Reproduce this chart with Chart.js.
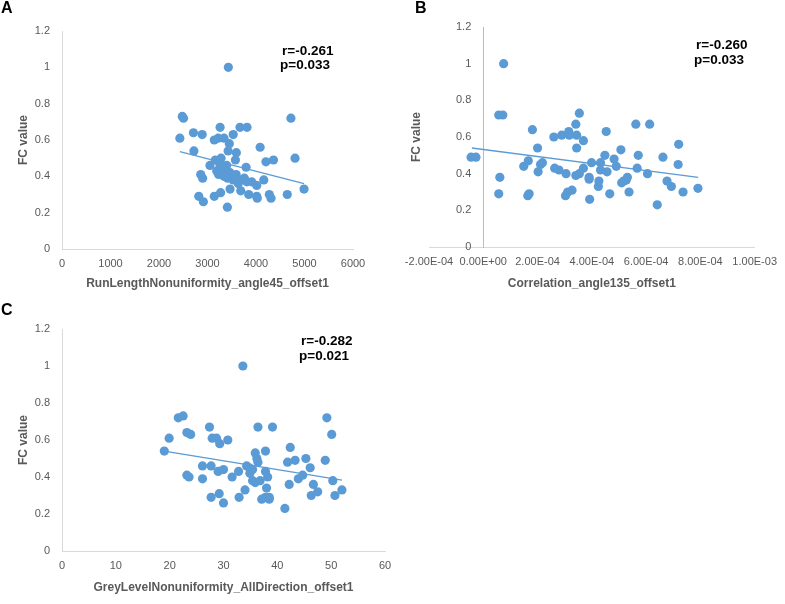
<!DOCTYPE html>
<html>
<head>
<meta charset="utf-8">
<script src="https://cdn.jsdelivr.net/npm/chart.js@4.4.1/dist/chart.umd.min.js"></script>
<style>
  html, body { margin: 0; padding: 0; background: #ffffff; }
  #wrap { position: relative; width: 785px; height: 604px; overflow: hidden; background: #ffffff; font-family: 'Liberation Sans', Arial, sans-serif; }
  canvas { position: absolute; }
  .lbl { position: absolute; font-weight: bold; color: #000; line-height: 1; white-space: nowrap; }
  .panel { font-size: 16px; }
  .stat { font-size: 13.5px; }
</style>
</head>
<body>
<div id="wrap">
  <canvas id="cA" width="390" height="300" style="left:0;top:0;"></canvas>
  <canvas id="cB" width="395" height="300" style="left:390px;top:0;"></canvas>
  <canvas id="cC" width="400" height="304" style="left:0;top:300px;"></canvas>
  <div class="lbl panel" style="left:1px;top:0px;">A</div>
  <div class="lbl panel" style="left:415px;top:0px;">B</div>
  <div class="lbl panel" style="left:1px;top:302px;">C</div>
  <div class="lbl stat" style="left:282px;top:44px;">r=-0.261</div>
  <div class="lbl stat" style="left:280px;top:58px;">p=0.033</div>
  <div class="lbl stat" style="left:696px;top:38px;">r=-0.260</div>
  <div class="lbl stat" style="left:694px;top:53px;">p=0.033</div>
  <div class="lbl stat" style="left:301px;top:334px;">r=-0.282</div>
  <div class="lbl stat" style="left:299px;top:349px;">p=0.021</div>
</div>
<script>
// ---------- DATA ----------
// Panel A: RunLengthNonuniformity_angle45_offset1 vs FC value
const runLengthX = [3430,2480,2505,4720,3260,3670,3815,2710,2890,2430,3140,3220,3340,3530,3450,4085,2720,3425,3595,3575,
  4805,4205,4360,3050,3160,3280,3795,3190,3295,3395,3230,3340,3465,3415,3530,3590,2860,2900,3760,3810,
  3910,4015,4160,3670,3635,3465,3685,3270,3140,3850,4015,4025,4275,4310,4645,4990,2820,2915,3410,3300,3360,3250,3500];
const runLengthFC = [1.00,0.73,0.72,0.72,0.67,0.67,0.67,0.64,0.63,0.61,0.60,0.61,0.61,0.63,0.58,0.56,0.54,0.54,0.53,0.49,
  0.50,0.48,0.49,0.46,0.49,0.50,0.45,0.43,0.45,0.46,0.41,0.40,0.42,0.39,0.38,0.41,0.41,0.39,0.39,0.37,
  0.37,0.35,0.38,0.38,0.36,0.33,0.32,0.31,0.29,0.30,0.29,0.28,0.30,0.28,0.30,0.33,0.29,0.26,0.23,0.44,0.43,0.47,0.40];
const runLengthTrendX = [2430, 4990];
const runLengthTrendFC = [0.536, 0.360];

// Panel B: Correlation_angle135_offset1 vs FC value
const correlationX = [7.5e-5,5.7e-5,7.2e-5,-4.5e-5,-2.7e-5,6.1e-5,5.7e-5,1.81e-4,2.0e-4,1.49e-4,1.66e-4,2.02e-4,2.11e-4,2.18e-4,1.64e-4,1.69e-4,
  2.6e-4,2.89e-4,3.15e-4,3.17e-4,3.41e-4,3.54e-4,3.44e-4,3.69e-4,3.44e-4,2.63e-4,2.79e-4,3.05e-4,3.41e-4,3.54e-4,3.69e-4,
  3.03e-4,3.11e-4,3.27e-4,3.9e-4,3.9e-4,3.92e-4,3.99e-4,4.26e-4,4.24e-4,4.32e-4,4.32e-4,4.48e-4,4.53e-4,4.56e-4,4.66e-4,
  4.82e-4,4.9e-4,5.07e-4,5.1e-4,5.17e-4,5.31e-4,5.27e-4,5.37e-4,5.62e-4,5.71e-4,5.67e-4,6.05e-4,6.13e-4,6.41e-4,6.62e-4,
  6.77e-4,6.93e-4,7.2e-4,7.18e-4,7.36e-4,7.91e-4];
const correlationFC = [1.00,0.72,0.72,0.49,0.49,0.38,0.29,0.64,0.54,0.44,0.47,0.41,0.45,0.46,0.28,0.29,
  0.60,0.61,0.63,0.61,0.67,0.73,0.61,0.58,0.54,0.43,0.42,0.40,0.39,0.40,0.43,
  0.28,0.30,0.31,0.38,0.37,0.26,0.46,0.36,0.33,0.46,0.42,0.50,0.63,0.41,0.29,
  0.48,0.44,0.53,0.35,0.36,0.38,0.365,0.30,0.67,0.50,0.43,0.40,0.67,0.23,0.49,
  0.36,0.33,0.56,0.45,0.30,0.32];
const correlationTrendX = [-4.2e-5, 7.92e-4];
const correlationTrendFC = [0.54, 0.38];

// Panel C: GreyLevelNonuniformity_AllDirection_offset1 vs FC value
const greyLevelX = [33.6,21.6,22.5,49.2,27.4,36.4,39.1,23.2,23.9,50.1,19.9,27.9,28.7,30.8,29.3,19.0,42.4,37.8,35.9,36.2,
  36.4,45.3,41.9,43.3,48.9,46.1,26.1,27.7,34.3,34.8,35.4,29.0,30.0,32.8,31.6,26.1,23.2,23.6,34.9,35.4,
  35.9,36.8,37.8,38.2,38.0,44.7,43.9,42.2,46.7,50.3,52.0,47.5,46.3,50.7,34.0,32.9,29.2,27.7,30.0,37.1,
  37.8,38.5,38.5,41.4];
const greyLevelFC = [1.00,0.72,0.73,0.72,0.67,0.67,0.67,0.64,0.63,0.63,0.61,0.61,0.61,0.60,0.58,0.54,0.56,0.54,0.53,0.50,
  0.48,0.50,0.48,0.49,0.49,0.45,0.46,0.46,0.46,0.45,0.44,0.43,0.44,0.43,0.40,0.39,0.41,0.40,0.42,0.38,
  0.37,0.38,0.43,0.40,0.34,0.41,0.39,0.36,0.36,0.38,0.33,0.32,0.30,0.30,0.33,0.29,0.31,0.29,0.26,0.28,
  0.29,0.28,0.29,0.23];
const greyLevelTrendX = [19.0, 52.0];
const greyLevelTrendFC = [0.54, 0.383];

// Tick labels
const fcTicks = [0, 0.2, 0.4, 0.6, 0.8, 1.0, 1.2];
const fcTickLabels = ['0', '0.2', '0.4', '0.6', '0.8', '1', '1.2'];
const runLengthTicks = [0, 1000, 2000, 3000, 4000, 5000, 6000];
const runLengthTickLabels = ['0', '1000', '2000', '3000', '4000', '5000', '6000'];
const correlationTicks = [-2e-4, 0, 2e-4, 4e-4, 6e-4, 8e-4, 1e-3];
const correlationTickLabels = ['-2.00E-04', '0.00E+00', '2.00E-04', '4.00E-04', '6.00E-04', '8.00E-04', '1.00E-03'];
const greyLevelTicks = [0, 10, 20, 30, 40, 50, 60];
const greyLevelTickLabels = ['0', '10', '20', '30', '40', '50', '60'];

// ---------- STYLE ----------
const FONT = "'Liberation Sans', Arial, sans-serif";
const BLUE = '#5b9bd5';
const TICK = '#595959';
const TITLE = '#595959';
const AXIS = '#d9d9d9';

Chart.defaults.font.family = FONT;

function pts(xs, ys) { return xs.map((x, i) => ({ x: x, y: ys[i] })); }

function makeChart(id, o) {
  const yScale = {
    type: 'linear',
    position: o.yPosition || 'left',
    min: 0, max: 1.2,
    afterBuildTicks: s => { s.ticks = fcTicks.map(v => ({ value: v })); },
    ticks: { display: !o.crossedY, autoSkip: false, padding: 12, color: TICK, font: { size: 11 },
      callback: (v, i) => fcTickLabels[i] },
    grid: { display: false, drawTicks: false },
    border: { display: true, color: o.yAxisColor || AXIS, width: 1 },
    title: { display: !o.crossedY, text: 'FC value', color: TITLE,
      font: { size: 12, weight: 'bold' }, padding: { top: 16, bottom: 0 } }
  };
  if (!o.yPosition) yScale.afterFit = s => { s.width = o.yWidth; };
  return new Chart(document.getElementById(id), {
    type: 'scatter',
    data: { datasets: [
      { data: pts(o.trendX, o.trendY), showLine: true, borderColor: BLUE, borderWidth: 1.3,
        pointRadius: 0, pointHoverRadius: 0, fill: false },
      { data: pts(o.x, o.y), backgroundColor: BLUE, borderColor: BLUE, borderWidth: 0,
        pointRadius: 4.6, pointHoverRadius: 4.6 }
    ]},
    options: {
      responsive: false, animation: false, devicePixelRatio: 1,
      layout: { padding: o.padding },
      plugins: { legend: { display: false }, tooltip: { enabled: false } },
      scales: {
        x: {
          type: 'linear', position: 'bottom', min: o.xMin, max: o.xMax,
          afterBuildTicks: s => { s.ticks = o.xTicks.map(v => ({ value: v })); },
          ticks: { autoSkip: false, maxRotation: 0, minRotation: 0, padding: 8, color: TICK,
            font: { size: 11 }, callback: (v, i) => o.xLabels[i] },
          grid: { display: false, drawTicks: false },
          border: { display: true, color: AXIS, width: 1 },
          title: { display: true, text: o.xTitle, color: TITLE,
            font: { size: 12, weight: 'bold' }, padding: { top: 0, bottom: 9 } },
          afterFit: s => { s.height = o.xHeight; }
        },
        y: yScale
      }
    },
    plugins: o.crossedY ? [{
      // y axis crossing at x = 0: its tick labels and title are drawn here from the library's scales
      id: 'crossedYAxis',
      afterDraw(chart) {
        const ctx = chart.ctx, a = chart.chartArea;
        const xs = chart.scales.x, ys = chart.scales.y;
        const axisX = xs.getPixelForValue(0);
        ctx.save();
        ctx.font = '11px ' + FONT;
        ctx.fillStyle = TICK;
        ctx.textAlign = 'right';
        ctx.textBaseline = 'middle';
        fcTicks.forEach((v, i) => ctx.fillText(fcTickLabels[i], axisX - 12, ys.getPixelForValue(v)));
        ctx.font = 'bold 12px ' + FONT;
        ctx.fillStyle = TITLE;
        ctx.textAlign = 'center';
        ctx.translate(o.yTitleX, (a.top + a.bottom) / 2);
        ctx.rotate(-Math.PI / 2);
        ctx.fillText('FC value', 0, 0);
        ctx.restore();
      }
    }] : []
  });
}

makeChart('cA', {
  x: runLengthX, y: runLengthFC, trendX: runLengthTrendX, trendY: runLengthTrendFC,
  xMin: 0, xMax: 6000, xTicks: runLengthTicks, xLabels: runLengthTickLabels,
  xTitle: 'RunLengthNonuniformity_angle45_offset1',
  padding: { left: 0, top: 31, right: 37, bottom: 0 }, yWidth: 62, xHeight: 51
});

makeChart('cB', {
  x: correlationX, y: correlationFC, trendX: correlationTrendX, trendY: correlationTrendFC,
  xMin: -2e-4, xMax: 1e-3, xTicks: correlationTicks, xLabels: correlationTickLabels,
  xTitle: 'Correlation_angle135_offset1', yPosition: { x: 0 }, yAxisColor: '#b0bdd3',
  crossedY: true, yTitleX: 27,
  padding: { left: 39, top: 27, right: 25, bottom: 0 }, xHeight: 53
});

makeChart('cC', {
  x: greyLevelX, y: greyLevelFC, trendX: greyLevelTrendX, trendY: greyLevelTrendFC,
  xMin: 0, xMax: 60, xTicks: greyLevelTicks, xLabels: greyLevelTickLabels,
  xTitle: 'GreyLevelNonuniformity_AllDirection_offset1',
  padding: { left: 0, top: 29, right: 15, bottom: 0 }, yWidth: 62, xHeight: 53
});
</script>
</body>
</html>
